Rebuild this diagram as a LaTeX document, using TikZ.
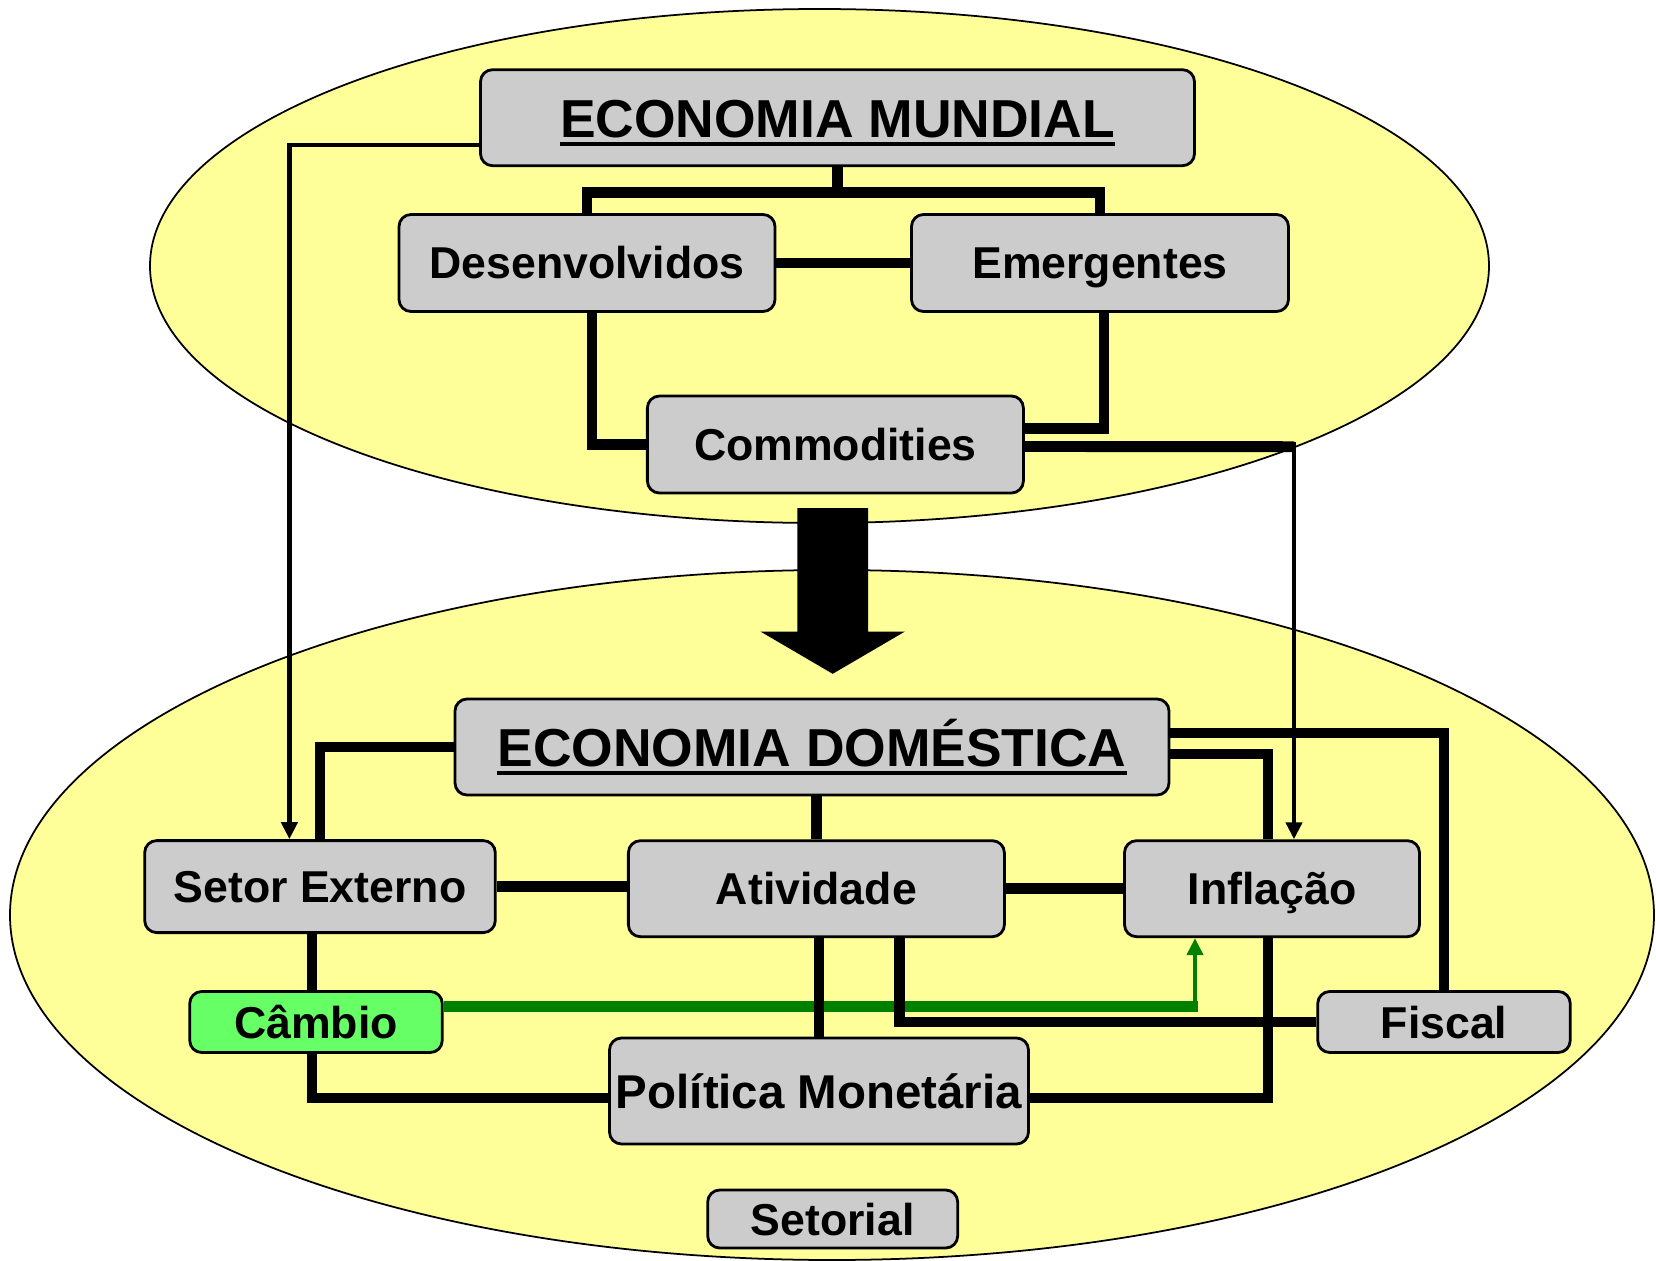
\documentclass[tikz,border=0pt]{standalone}
\usepackage{fontspec}
\setmainfont{Liberation Sans}
\usepackage{tikz}
\usetikzlibrary{arrows.meta}

\definecolor{boxgray}{HTML}{CCCCCC}
\definecolor{ellyellow}{HTML}{FFFF99}
\definecolor{cambiogreen}{HTML}{66FF66}
\definecolor{arrowgreen}{HTML}{008000}

\newcommand{\ulined}[1]{\vtop{\hbox{#1}\kern1.2pt\hrule height 1.1pt}}

\tikzset{
	box/.style={rectangle, rounded corners=0.12cm, draw, line width=0.8pt, fill=boxgray, inner sep=0pt,
		text height=9.1pt, text depth=0pt, font=\bfseries\fontsize{12.7}{14}\selectfont},
	titlebox/.style={box, text height=11.2pt, font=\bfseries\fontsize{15.2}{17}\selectfont},
	link/.style={line width=3.1pt},
	thinarrow/.style={line width=1.2pt, -{Triangle[length=0.17cm,width=0.16cm]}},
	greenlink/.style={link, draw=arrowgreen},
	greenarrow/.style={thinarrow, color=arrowgreen}
}

\begin{document}
\begin{tikzpicture}
		
		\useasboundingbox (0,0) rectangle (16.56,-12.61);
		
		% Ellipses
		
		\draw[fill=ellyellow, line width=0.5pt] (8.195,-2.66) ellipse (6.695cm and 2.57cm);
		
		\draw[fill=ellyellow, line width=0.5pt] (8.32,-9.15) ellipse (8.22cm and 3.45cm);
		
		% Big arrow
		
		\fill (7.973,-5.08) -- (8.681,-5.08) -- (8.681,-6.315) -- (9.05,-6.315) -- (8.327,-6.738)
		-- (7.604,-6.315) -- (7.973,-6.315) -- cycle;
		
		% Economia mundial
		
		\node[titlebox, minimum width=7.14cm, minimum height=0.96cm]
		(mundial) at (8.375,-1.177) {\ulined{ECONOMIA MUNDIAL}};
		
		\node[box, minimum width=3.76cm, minimum height=0.97cm]
		(desenv) at (5.87,-2.63) {Desenvolvidos};
		
		\node[box, minimum width=3.77cm, minimum height=0.97cm]
		(emerg) at (11.0,-2.63) {Emergentes};
		
		\node[box, minimum width=3.76cm, minimum height=0.97cm]
		(commod) at (8.354,-4.445) {Commodities};
		
		% Economia domestica
		
		\node[titlebox, minimum width=7.14cm, minimum height=0.96cm]
		(domestica) at (8.12,-7.47) {\ulined{ECONOMIA DOMÉSTICA}};
		
		\node[box, minimum width=3.506cm, minimum height=0.92cm]
		(setor) at (3.20,-8.866) {Setor Externo};
		
		\node[box, minimum width=3.76cm, minimum height=0.96cm]
		(ativ) at (8.164,-8.887) {Atividade};
		
		\node[box, minimum width=2.95cm, minimum height=0.96cm]
		(infl) at (12.72,-8.887) {Inflação};
		
		\node[box, fill=cambiogreen, minimum width=2.525cm, minimum height=0.61cm]
		(cambio) at (3.16,-10.22) {Câmbio};
		
		\node[box, minimum width=2.525cm, minimum height=0.61cm]
		(fiscal) at (14.44,-10.22) {Fiscal};
		
		\node[box, text height=9.7pt, font=\bfseries\fontsize{13.5}{15}\selectfont, minimum width=4.19cm, minimum height=1.06cm]
		(politica) at (8.19,-10.91) {Política Monetária};
		
		\node[box, minimum width=2.50cm, minimum height=0.58cm]
		(setorial) at (8.327,-12.19) {Setorial};
		
		\coordinate (mbend) at (2.894,-1.447);
		\coordinate (cbend) at (12.94,-4.467);
		\coordinate (gbend) at (11.95,-10.065);
		
		% Green link
		
		\draw[greenlink] ([yshift=0.155cm]cambio.east) -- ([xshift=0.03cm]gbend);
		
		\draw[greenarrow] ([yshift=0.05cm]gbend) -- (gbend |- infl.south);
		
		% Links
		
		\draw[link] (mundial.south) -- ++(0,-0.25) -| (desenv.north);
		
		\draw[link] (mundial.south) -- ++(0,-0.25) -| (emerg.north);
		
		\draw[link] (desenv.east) -- (emerg.west);
		
		\draw[link] ([xshift=0.05cm]desenv.south) |- (commod.west);
		
		\draw[link] ([xshift=0.04cm]emerg.south) |- ([yshift=0.16cm]commod.east);
		
		\draw[link] ([yshift=-0.02cm]commod.east) -- (cbend);
		
		\draw[link] (domestica.west) -| (setor.north);
		
		\draw[link] (ativ.north |- domestica.south) -- (ativ.north);
		
		\draw[link] ([yshift=0.14cm]domestica.east) -| (fiscal.north);
		
		\draw[link] ([yshift=-0.07cm]domestica.east) -| ([xshift=-0.04cm]infl.north);
		
		\draw[link] ([xshift=-0.04cm]infl.south) |- ([yshift=-0.07cm]politica.east);
		
		\draw[link] (setor.east) -- (setor.east -| ativ.west);
		
		\draw[link] (ativ.east) -- (infl.west);
		
		\draw[link] ([xshift=-0.04cm]cambio.north |- setor.south) -- ([xshift=-0.04cm]cambio.north);
		
		\draw[link] ([xshift=-0.04cm]cambio.south) |- ([yshift=-0.07cm]politica.west);
		
		\draw[link] (politica.north |- ativ.south) -- (politica.north);
		
		\draw[link] ([xshift=0.83cm]ativ.south) |- (fiscal.west);
		
		% Thin arrows
		
		\draw[thinarrow] ([yshift=-0.27cm]mundial.west) -| (mbend |- setor.north);
		
		\draw[thinarrow] ([yshift=0.05cm]cbend) -- (cbend |- infl.north);
		
	\end{tikzpicture}
\end{document}
